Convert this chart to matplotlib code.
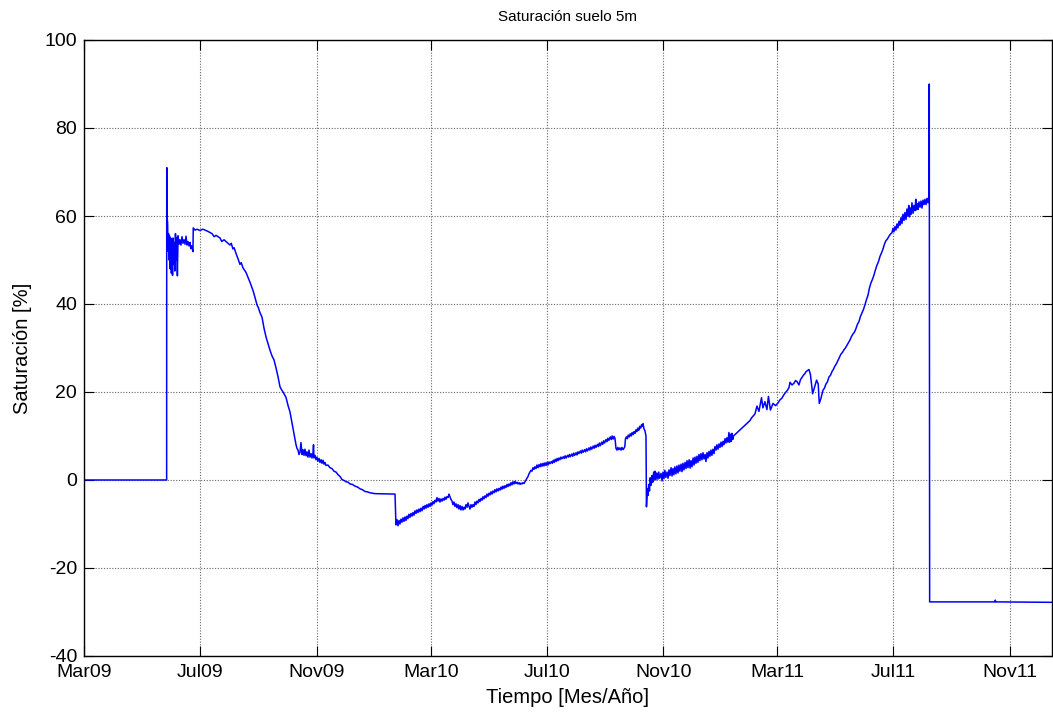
import numpy as np
import matplotlib
matplotlib.use("Agg")
import matplotlib.pyplot as plt
import matplotlib.dates as mdates
from datetime import datetime

# Saturación del suelo a 5 m: pares (días desde el 1-mar-2009, saturación %)
inicio = datetime(2009, 3, 1)

tramo_2009 = [
    (0, 0), (87.0, 0), (87.1, 71), (87.3, 60), (88.0, 58.5), (88.5, 52),
    (89.0, 56), (89.5, 50), (90.0, 55.5), (90.7, 48), (91.3, 55), (92.0, 47),
    (92.6, 53.5), (93.2, 46.5), (93.8, 55), (94.5, 49), (95.0, 54),
    (95.6, 47.5), (96.3, 56), (97.0, 50), (97.6, 55), (98.3, 46.4),
    (99.0, 55.5), (100, 53.6), (101, 54.6), (102, 53.4), (103.2, 55.3),
    (104.2, 53.8), (105.3, 54.6), (106.3, 53.6), (107.4, 55.4), (108.4, 53.4),
    (109.5, 54.2), (110.5, 53.2), (111.6, 54), (112.4, 52.6), (113.2, 53.2),
    (114.7, 51.9), (115.0, 57.3), (116.8, 56.8), (119, 57.0), (122.1, 56.7),
    (125, 57.0), (127.4, 56.8), (130.5, 56.5), (134.7, 56.0), (137, 55.3),
    (139, 55.6), (143.2, 55.0), (145, 54.2), (147.4, 54.6), (150.5, 54.0),
    (153.7, 53.4), (155, 53.8), (156.8, 52.5), (158, 52.8), (160, 51.5),
    (162.1, 50.3), (164.2, 49.0), (165.5, 49.4), (167.4, 48.2), (170.5, 47.2),
    (172, 46.4), (173.7, 45.5), (175, 44.8), (176.8, 43.7), (178, 43.0),
    (180, 41.5), (182.1, 39.8), (183.5, 39.2), (185.3, 38.0), (187.4, 37),
    (189.5, 34.5), (191.6, 32.5), (193.7, 31.0), (195.8, 29.5), (197.9, 28.2),
    (200, 27.3), (202.1, 25.5), (204.2, 23.5), (206.3, 21.2), (208, 20.5),
    (209.5, 20), (211, 19.4), (212.6, 18.8), (214.7, 17), (216.8, 15.5),
    (218.9, 13), (221, 10.5), (223.2, 8), (224.2, 7.2), (225.3, 6.8),
    (226.3, 5.8), (227.4, 6.3), (228.4, 8.5), (229.5, 5.8), (230.5, 6.9),
    (231.6, 5.6), (232.6, 7.0), (233.7, 5.5), (234.7, 6.4), (235.8, 5.2),
    (236.8, 6.8), (237.9, 5.2), (239, 6.0), (240, 5.0), (241.1, 6.2),
    (241.6, 8.0), (242.1, 5.0), (243.2, 5.6), (244.2, 4.6), (245.3, 5.2),
    (246.3, 4.3), (247.4, 4.9), (248.4, 4.0), (249.5, 4.6), (250.5, 3.8),
    (251.6, 4.5), (252.6, 3.6), (253.7, 4.0), (254.7, 3.3), (256.8, 3.4),
    (258.9, 2.8), (261, 2.6), (263.2, 2.0), (265.3, 1.8), (267.4, 1.2),
    (269.5, 0.8), (271.6, 0.1), (273.7, -0.1), (275.8, -0.4), (278, -0.5),
    (280, -0.9), (282.6, -1.0), (285.3, -1.4), (288, -1.6), (290.5, -2.0),
    (293, -2.2), (295.8, -2.6), (298.4, -2.7), (301, -2.9), (306.3, -3.1),
    (327.4, -3.2),
]

tramo_2010 = [
    (328.4, -10.2), (329.5, -9.0), (330.5, -10.4), (331.6, -9.2),
    (332.6, -10.0), (333.7, -8.9), (334.7, -9.6), (335.8, -8.6),
    (336.8, -9.4), (337.9, -8.4), (338.9, -9.2), (340, -8.2), (341, -8.8),
    (342, -7.8), (343.1, -8.5), (344.2, -7.6), (345.3, -8.2), (346.3, -7.4),
    (347.4, -8.0), (348.4, -7.0), (349.5, -7.6), (350.5, -6.8), (351.6, -7.4),
    (352.6, -6.6), (353.7, -7.2), (354.7, -6.4), (355.8, -7.0), (357, -6.0),
    (358, -6.6), (359, -5.8), (360, -6.4), (361, -5.6), (362.1, -6.2),
    (363.2, -5.4), (364.2, -6.0), (365.3, -5.2), (366.3, -5.7), (367.4, -4.9),
    (368.4, -5.4), (369.5, -4.6), (370.5, -5.0), (371.6, -4.0), (372.6, -4.8),
    (373.7, -4.2), (374.7, -5.0), (375.8, -4.3), (376.8, -4.8), (377.9, -4.2),
    (379, -4.6), (380, -3.9), (381, -4.4), (382.1, -3.8), (383.2, -4.0),
    (384.2, -3.2), (385.3, -3.8), (386.3, -4.4), (387.4, -4.8), (388.4, -5.6),
    (389.5, -5.0), (390.5, -6.0), (391.6, -5.4), (392.6, -6.3), (393.7, -5.6),
    (394.7, -6.6), (395.8, -5.8), (396.8, -6.8), (397.9, -6.0), (399, -6.8),
    (400, -6.2), (401, -6.6), (402.1, -5.6), (403.2, -6.2), (404.2, -5.2),
    (405.3, -6.0), (406.3, -6.6), (407.4, -5.6), (408.4, -6.2), (409.5, -5.6),
    (410.5, -6.0), (411.6, -5.0), (412.6, -5.6), (413.7, -4.8), (414.7, -5.2),
    (415.8, -4.4), (416.8, -4.9), (417.9, -4.2), (418.9, -4.6), (420, -3.8),
    (421, -4.3), (422.1, -3.6), (423.2, -4.0), (424.2, -3.2), (425.3, -3.7),
    (426.3, -3.0), (427.4, -3.4), (428.4, -2.7), (429.5, -3.2), (430.5, -2.5),
    (431.6, -2.9), (432.6, -2.2), (433.7, -2.7), (434.7, -2.0), (435.8, -2.5),
    (436.8, -1.9), (437.9, -2.3), (439, -1.6), (440, -2.1), (441, -1.4),
    (442.1, -1.9), (443.2, -1.3), (444.2, -1.7), (445.3, -1.0), (446.3, -1.5),
    (447.4, -0.9), (448.4, -1.3), (449.5, -0.6), (450.5, -1.1), (451.6, -0.4),
    (452.6, -0.9), (453.7, -0.3), (454.7, -0.8), (455.8, -0.5), (456.8, -0.9),
    (458, -0.6), (459, -1.0), (460, -0.7), (461, -0.9), (462.1, -0.6),
    (463.2, -0.8), (464.2, -0.4), (465.3, 0.0), (466.3, 0.4), (467.4, 0.8),
    (468.4, 1.4), (469.5, 1.8), (470.5, 2.2), (471.6, 2.0), (472.6, 2.8),
    (473.7, 2.4), (474.7, 3.0), (475.8, 2.6), (476.8, 3.4), (477.9, 2.8),
    (479, 3.5), (480, 3.0), (481, 3.7), (482.1, 3.1), (483.2, 3.8),
    (484.2, 3.2), (485.3, 3.9), (486.3, 3.3), (487.4, 4.0), (488.4, 3.4),
    (489.5, 4.1), (490.5, 3.7), (492, 4.2), (493, 3.8), (494, 4.5), (495, 4.0),
    (496, 4.7), (497, 4.2), (498, 4.9), (499, 4.4), (500, 5.0), (501, 4.6),
    (502, 5.2), (503, 4.8), (504.5, 5.3), (505.5, 4.9), (506.5, 5.5),
    (507.5, 5.0), (509, 5.6), (510, 5.2), (511, 5.8), (512, 5.3), (513.5, 5.9),
    (514.5, 5.4), (515.5, 6.1), (516.5, 5.6), (518, 6.2), (519, 5.7),
    (520, 6.4), (521, 6.0), (522.5, 6.6), (523.5, 6.1), (524.5, 6.8),
    (525.5, 6.3), (527, 6.9), (528, 6.4), (529, 7.1), (530, 6.6), (531.5, 7.3),
    (532.5, 6.8), (533.5, 7.5), (534.5, 7.0), (536, 7.7), (537, 7.2),
    (538, 7.9), (539, 7.4), (540.5, 8.1), (541.5, 7.6), (542.5, 8.4),
    (543.5, 7.8), (545, 8.6), (546, 8.1), (547, 8.9), (548, 8.4), (549.5, 9.2),
    (550.5, 8.7), (551.5, 9.5), (552.5, 9.0), (554, 9.8), (555, 9.2),
    (556, 10.0), (557, 9.3), (558, 9.9), (559, 9.4), (560, 7.2), (561, 6.8),
    (562, 7.4), (563, 6.9), (564.2, 7.3), (565.3, 6.8), (566.3, 7.4),
    (567.4, 6.9), (568.4, 7.2), (569.3, 7.6), (570, 9.4), (571, 9.8),
    (572, 9.4), (573, 10.2), (574, 9.8), (575, 10.5), (576, 10.0), (577, 10.8),
    (578, 10.3), (579, 11.0), (580, 10.6), (581, 11.4), (582, 11.0),
    (583, 11.8), (584, 11.3), (585, 12.2), (586, 11.8), (587, 12.6),
    (587.8, 12.2), (588.5, 12.8), (589.5, 11.6), (590.5, 11.2), (591.6, 10.0),
]

tramo_2011 = [
    (592.1, -6.1), (593, -2.0), (593.7, -3.5), (594.5, -1.0), (595.3, -2.5),
    (596, 0.5), (597, -1.2), (597.9, 1.0), (598.8, -0.5), (599.7, 1.8),
    (600.5, 0.2), (601.1, 2.0), (602, 0.0), (603, 1.6), (604.2, 0.2),
    (605, 1.8), (606, 0.4), (607.4, 1.5), (608.5, -0.2), (609.5, 1.8),
    (610.5, 0.3), (611.5, 2.2), (612.5, 0.6), (613.7, 1.8), (614.8, 0.4),
    (615.8, 2.3), (616.8, 1.0), (618, 2.8), (619, 0.9), (620, 2.6),
    (621, 1.2), (622, 3.0), (623.1, 1.4), (624.2, 3.2), (625.3, 1.6),
    (626.3, 3.4), (627.3, 2.0), (628.5, 3.6), (629.5, 1.9), (630.5, 3.8),
    (631.6, 2.3), (632.7, 4.0), (633.7, 2.6), (634.8, 4.4), (635.8, 2.8),
    (637, 4.6), (638, 2.7), (639, 4.4), (640, 3.0), (641.2, 5.0),
    (642.2, 3.4), (643.2, 5.2), (644.2, 3.8), (645.3, 5.4), (646.3, 4.0),
    (647.4, 5.8), (648.4, 4.4), (649.5, 6.0), (650.5, 4.6), (651.6, 6.2),
    (652.6, 4.8), (653.7, 5.8), (654.7, 4.2), (655.8, 6.2), (656.8, 5.0),
    (657.9, 6.5), (658.9, 5.4), (660, 6.8), (661, 5.6), (662.1, 7.0),
    (663.2, 6.0), (664.2, 7.6), (665.3, 6.8), (666.3, 8.0), (667.4, 7.0),
    (668.5, 8.2), (669.5, 7.4), (670.6, 8.6), (671.6, 7.6), (672.7, 8.8),
    (673.7, 8.0), (674.8, 9.4), (675.8, 8.4), (676.8, 9.6), (677.9, 8.6),
    (678.9, 10.8), (679.7, 8.6), (680.5, 10.4), (681.3, 8.8), (682.1, 10.6),
    (682.9, 9.2), (683.7, 10.0), (701, 13.5), (703, 14.2), (706.3, 15.0),
    (708.4, 16.8), (710.5, 15.6), (713.2, 18.7), (714.7, 16.4), (716.8, 17.8),
    (718.9, 16.0), (720.5, 19.0), (722.6, 15.9), (725.3, 17.4), (728, 16.9),
    (730.5, 17.5), (732.6, 18.2), (734.7, 18.6), (736.8, 19.4), (738.9, 20.0),
    (740.5, 20.4), (742.1, 21.0), (743.2, 22.2), (745.3, 21.6), (747.4, 22.0),
    (749, 22.6), (750.5, 22.4), (752.6, 21.6), (754.2, 22.8), (755.8, 23.3),
    (757.3, 23.8), (758.9, 24.2), (760, 24.6), (761.1, 24.8), (763.2, 25.1),
    (764.7, 24.0), (767, 19.6), (769.5, 21.5), (771.2, 22.7), (772.9, 21.8),
    (774, 17.4), (775.7, 18.5), (777.9, 20.4), (779.5, 20.9), (781, 21.8),
    (782.6, 22.3), (784.2, 23.4), (785.8, 23.8), (787.3, 24.6), (789, 25.2),
    (790.5, 25.9), (792, 26.4), (793.7, 27.2), (795.3, 27.9), (796.8, 28.6),
    (798.4, 29.0), (800, 29.6), (801.5, 30.0), (803.1, 30.6), (804.7, 31.2),
    (806.3, 31.8), (807.9, 32.6), (809.5, 33.2), (811, 33.6), (812.6, 34.4),
    (814.2, 35.4), (815.8, 36.0), (817.4, 37.2), (819, 38.0), (820.6, 38.8),
    (822.1, 39.8), (823.7, 41.0), (825.3, 42.0), (826.8, 43.6), (828.4, 44.8),
    (830, 45.6), (831.6, 46.6), (833.2, 47.8), (834.7, 48.8), (836.3, 49.6),
    (837.9, 50.8), (839.5, 51.6), (841.1, 52.5), (842.6, 53.6), (844.2, 54.4),
    (845.8, 54.8), (847.4, 55.4), (849, 55.9), (850.5, 56.2), (851.6, 57.2),
    (852.6, 56.4), (853.7, 57.6), (854.7, 56.8), (855.8, 58.2), (856.8, 57.3),
    (857.9, 58.8), (858.9, 57.9), (860, 59.6), (861.1, 58.3), (862.1, 60.4),
    (863.2, 59.0), (864.2, 60.8), (865.3, 59.2), (866.3, 61.6), (867.4, 60.0),
    (868.2, 62.4), (869, 59.8), (869.8, 61.8), (870.6, 60.4), (871.6, 63.0),
    (872.7, 60.6), (873.7, 62.4), (874.8, 61.2), (875.6, 63.8), (876.4, 61.4),
    (877.2, 62.8), (878, 61.5), (879, 63.2), (880.1, 62.0), (881.1, 63.4),
    (882.2, 61.8), (883.2, 63.6), (884.3, 62.6), (885.3, 63.8), (886.4, 62.6),
    (887.4, 64.0), (888.5, 63.0), (889.2, 64.2), (889.5, 66.0), (889.8, 90.0),
    (890.2, -27.7), (958.9, -27.7), (959.3, -27.3), (959.8, -27.7),
    (1019, -27.8),
]

fechas_ticks = [datetime(2009, 3, 1), datetime(2009, 7, 1), datetime(2009, 11, 1),
                datetime(2010, 3, 1), datetime(2010, 7, 1), datetime(2010, 11, 1),
                datetime(2011, 3, 1), datetime(2011, 7, 1), datetime(2011, 11, 1)]
etiquetas_meses = ["Mar09", "Jul09", "Nov09", "Mar10", "Jul10", "Nov10",
                   "Mar11", "Jul11", "Nov11"]
ticks_y = [-40, -20, 0, 20, 40, 60, 80, 100]
dias_total = 1019

plt.rcParams['font.family'] = ['Liberation Sans', 'DejaVu Sans']
plt.rcParams['axes.unicode_minus'] = False

serie = np.array(tramo_2009 + tramo_2010 + tramo_2011, dtype=float)
t0 = mdates.date2num(inicio)
x = t0 + serie[:, 0]
y = serie[:, 1]

fig = plt.figure(figsize=(10.53, 7.17), dpi=100)
ax = fig.add_axes([84 / 1053, 61 / 717, 968 / 1053, 616 / 717])

ax.plot(x, y, color='#0000ff', lw=1.1)

ax.set_xlim(t0, t0 + dias_total)
ax.set_ylim(-40, 100)
ax.set_xticks(mdates.date2num(fechas_ticks))
ax.set_xticklabels(etiquetas_meses)
ax.set_yticks(ticks_y)

ax.grid(True, color='#666666', linestyle=(0, (1, 1.5)), linewidth=0.8)
ax.tick_params(direction='in', length=7, width=0.8, top=True, right=True,
               labelsize=14, color='black')
ax.tick_params(axis='x', pad=6)
ax.tick_params(axis='y', pad=5)
for s in ax.spines.values():
    s.set_linewidth(1.0)

ax.set_title('Saturación suelo 5m', fontsize=11, pad=14)
ax.set_xlabel('Tiempo [Mes/Año]', fontsize=14.5, labelpad=5)
ax.set_ylabel('Saturación [%]', fontsize=14.5, labelpad=9)

fig.savefig('out.png', dpi=100)
